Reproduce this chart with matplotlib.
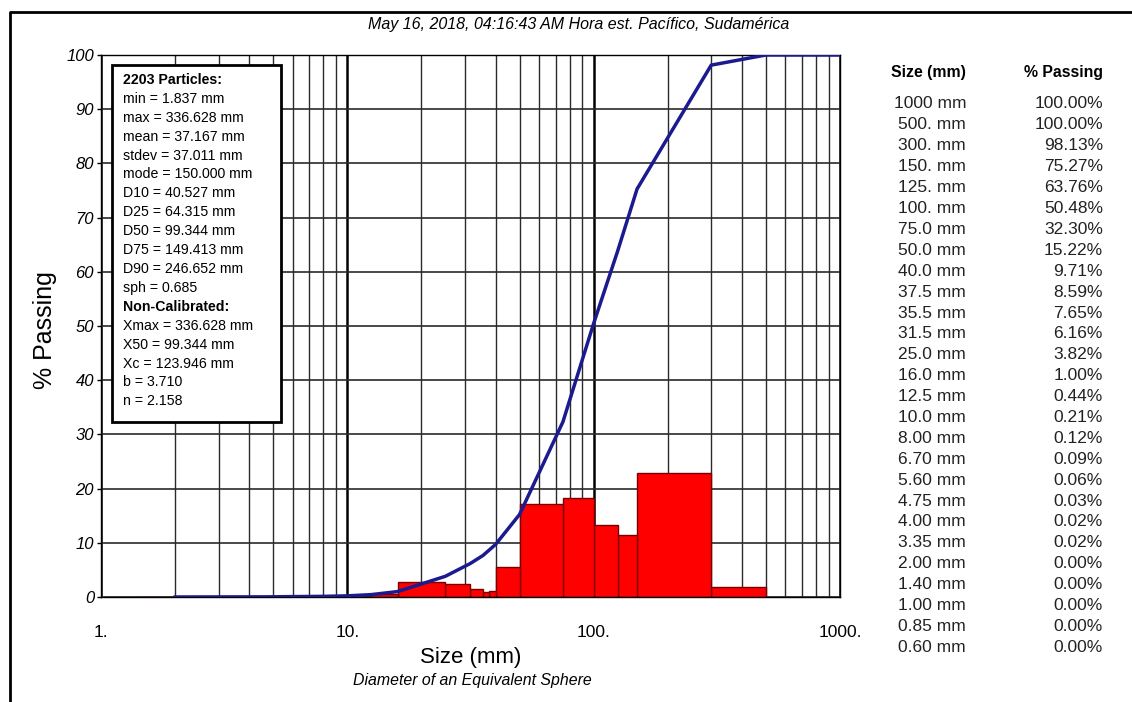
import numpy as np
import matplotlib
matplotlib.use("Agg")
import matplotlib.pyplot as plt
from matplotlib.patches import Rectangle
from matplotlib.lines import Line2D
from matplotlib.ticker import FixedLocator, FixedFormatter, NullFormatter

plt.rcParams['font.family'] = ['Liberation Sans', 'DejaVu Sans']

# %% data
sieve_mm = [1000, 500, 300, 150, 125, 100, 75.0, 50.0, 40.0, 37.5, 35.5, 31.5, 25.0,
            16.0, 12.5, 10.0, 8.00, 6.70, 5.60, 4.75, 4.00, 3.35, 2.00, 1.40, 1.00, 0.85, 0.60]
size_labels = ['1000 mm', '500. mm', '300. mm', '150. mm', '125. mm', '100. mm', '75.0 mm',
               '50.0 mm', '40.0 mm', '37.5 mm', '35.5 mm', '31.5 mm', '25.0 mm', '16.0 mm',
               '12.5 mm', '10.0 mm', '8.00 mm', '6.70 mm', '5.60 mm', '4.75 mm', '4.00 mm',
               '3.35 mm', '2.00 mm', '1.40 mm', '1.00 mm', '0.85 mm', '0.60 mm']
passing = [100.00, 100.00, 98.13, 75.27, 63.76, 50.48, 32.30, 15.22, 9.71, 8.59, 7.65, 6.16,
           3.82, 1.00, 0.44, 0.21, 0.12, 0.09, 0.06, 0.03, 0.02, 0.02, 0.00, 0.00, 0.00, 0.00, 0.00]
# % retained in each bin (upper edge = sieve_mm[i], lower edge = sieve_mm[i+1])
retained = [0.00, 1.87, 22.86, 11.51, 13.28, 18.18, 17.08, 5.51, 1.12, 0.94, 1.49, 2.34,
            2.82, 0.56, 0.23, 0.09, 0.03, 0.03, 0.03, 0.01, 0.00, 0.02, 0.05, 0.00, 0.00, 0.00]

stats_lines = ['2203 Particles:', 'min = 1.837 mm', 'max = 336.628 mm', 'mean = 37.167 mm',
               'stdev = 37.011 mm', 'mode = 150.000 mm', 'D10 = 40.527 mm', 'D25 = 64.315 mm',
               'D50 = 99.344 mm', 'D75 = 149.413 mm', 'D90 = 246.652 mm', 'sph = 0.685',
               'Non-Calibrated:', 'Xmax = 336.628 mm', 'X50 = 99.344 mm', 'Xc = 123.946 mm',
               'b = 3.710', 'n = 2.158']
bold_lines = ['2203 Particles:', 'Non-Calibrated:']

title = 'May 16, 2018, 04:16:43 AM Hora est. Pacífico, Sudamérica'
x_ticks = [1, 10, 100, 1000]
x_ticklabels = ['1.', '10.', '100.', '1000.']
y_ticks = list(range(0, 101, 10))

# %% figure
W, H = 1132, 702
fig = plt.figure(figsize=(W / 100, H / 100), dpi=100)
fig.patch.set_facecolor('white')


def px(x, y):
    """pixel position (from top-left) -> figure fraction"""
    return x / W, 1 - y / H


ax = fig.add_axes([101 / W, 1 - 597 / H, (840 - 101) / W, (597 - 55) / H])
ax.set_xscale('log')
ax.set_xlim(1, 1000)
ax.set_ylim(0, 100)
ax.set_axisbelow(True)

# histogram bars
upper = np.array(sieve_mm[:-1])
lower = np.array(sieve_mm[1:])
heights = np.array(retained)
keep = heights > 0
ax.bar(lower[keep], heights[keep], width=(upper - lower)[keep], align='edge',
       color='#ff0000', edgecolor='#7a0000', linewidth=1.0, zorder=2)

# cumulative passing curve
sizes = np.array(sieve_mm)
pas = np.array(passing)
on = sizes >= 2.0
ax.plot(sizes[on], pas[on], color='#1b1b8f', lw=2.5, zorder=3, solid_joinstyle='round')

# grid
ax.xaxis.set_major_locator(FixedLocator(x_ticks))
ax.xaxis.set_major_formatter(FixedFormatter(x_ticklabels))
minor = [k * 10 ** d for d in range(3) for k in range(2, 10)]
ax.xaxis.set_minor_locator(FixedLocator(minor))
ax.xaxis.set_minor_formatter(NullFormatter())
ax.set_yticks(y_ticks)
ax.grid(which='major', axis='x', color='black', lw=1.8)
ax.grid(which='minor', axis='x', color='#2a2a2a', lw=1.0)
ax.grid(which='major', axis='y', color='#2a2a2a', lw=1.2)
ax.tick_params(axis='x', which='both', length=0, pad=20, labelsize=12.5)
ax.tick_params(axis='y', length=3, width=1, pad=2, labelsize=12)
for lab in ax.get_yticklabels():
    lab.set_fontstyle('italic')
for s in ax.spines.values():
    s.set_color('black')
    s.set_linewidth(1.0)

ax.set_xlabel('Size (mm)', fontsize=16, labelpad=5)
fig.text(*px(472, 681), 'Diameter of an Equivalent Sphere', fontsize=11.4, style='italic',
         ha='center', va='center')
fig.text(*px(45, 330), '% Passing', fontsize=18, rotation=90, ha='center', va='center')
fig.text(*px(579, 25), title, fontsize=11.5, style='italic', ha='center', va='center')

# stats box
x0, y0 = px(112, 422)
x1, y1 = px(281, 65)
fig.patches.append(Rectangle((x0, y0), x1 - x0, y1 - y0, transform=fig.transFigure,
                             facecolor='white', edgecolor='black', lw=2, zorder=5))
for i, line in enumerate(stats_lines):
    fig.text(*px(123, 80 + i * 18.9), line, fontsize=10.2,
             fontweight='bold' if line in bold_lines else 'normal',
             ha='left', va='center', zorder=6)

# size table
fig.text(*px(966, 73), 'Size (mm)', fontsize=11.4, fontweight='bold', ha='right', va='center')
fig.text(*px(1103, 73), '% Passing', fontsize=11.4, fontweight='bold', ha='right', va='center')
for i, (lab, p) in enumerate(zip(size_labels, passing)):
    y = 104 + i * 20.9
    fig.text(*px(966, y), lab, fontsize=12.5, color='#222222', ha='right', va='center')
    fig.text(*px(1103, y), f'{p:.2f}%', fontsize=12.5, color='#222222', ha='right', va='center')

# outer frame (only top and left edges are inside the picture)
fig.lines.append(Line2D([10 / W, 10 / W, 1], [0, 1 - 12 / H, 1 - 12 / H],
                        transform=fig.transFigure, color='black', lw=2))

fig.savefig('out.png', dpi=100)
